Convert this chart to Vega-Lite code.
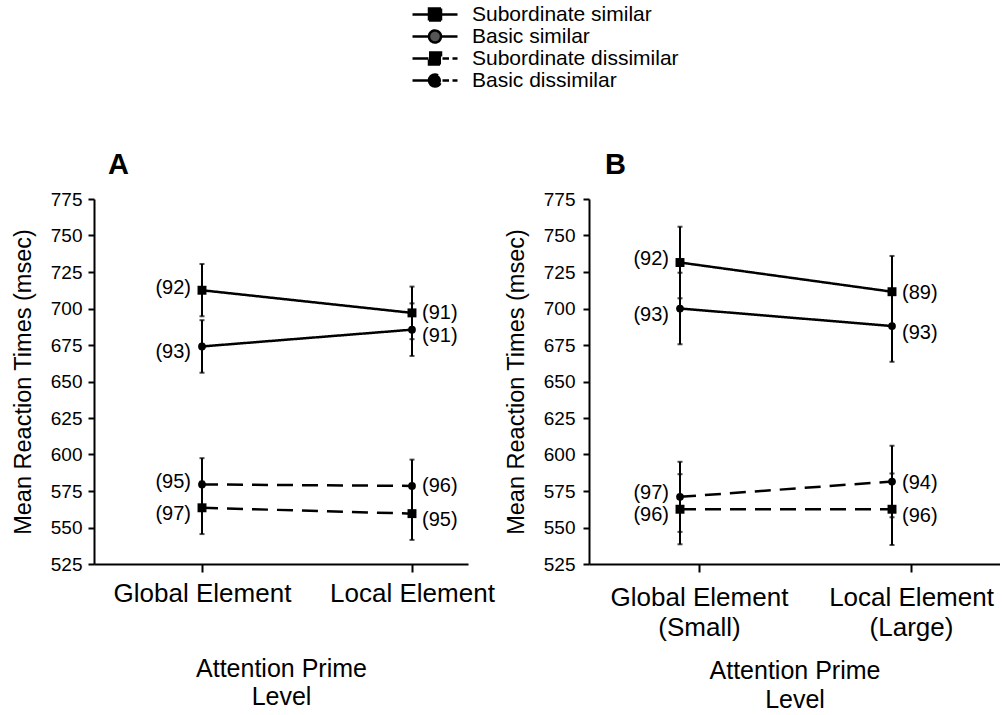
{
  "$schema": "https://vega.github.io/schema/vega-lite/v6.json",
  "padding": {"left": 11, "top": 4, "right": 0, "bottom": 0},
  "background": "white",
  "datasets": {
    "rt": [
      {"panel": "A", "series": "Subordinate similar", "category": "Subordinate", "level": "Global Element", "mean": 712.5, "lo": 694.7, "hi": 730.5, "n": "(92)"},
      {"panel": "A", "series": "Subordinate similar", "category": "Subordinate", "level": "Local Element", "mean": 697, "lo": 679, "hi": 715, "n": "(91)"},
      {"panel": "A", "series": "Basic similar", "category": "Basic", "level": "Global Element", "mean": 674, "lo": 656, "hi": 692, "n": "(93)"},
      {"panel": "A", "series": "Basic similar", "category": "Basic", "level": "Local Element", "mean": 685.5, "lo": 667.5, "hi": 703.5, "n": "(91)"},
      {"panel": "A", "series": "Subordinate dissimilar", "category": "Subordinate", "level": "Global Element", "mean": 563.5, "lo": 545.5, "hi": 581.5, "n": "(97)"},
      {"panel": "A", "series": "Subordinate dissimilar", "category": "Subordinate", "level": "Local Element", "mean": 559.5, "lo": 541.5, "hi": 577.5, "n": "(95)"},
      {"panel": "A", "series": "Basic dissimilar", "category": "Basic", "level": "Global Element", "mean": 579.5, "lo": 561.5, "hi": 597.5, "n": "(95)"},
      {"panel": "A", "series": "Basic dissimilar", "category": "Basic", "level": "Local Element", "mean": 578.5, "lo": 560.5, "hi": 596.5, "n": "(96)"},
      {"panel": "B", "series": "Subordinate similar", "category": "Subordinate", "level": "Global Element", "mean": 731.5, "lo": 707, "hi": 756, "n": "(92)"},
      {"panel": "B", "series": "Subordinate similar", "category": "Subordinate", "level": "Local Element", "mean": 711.5, "lo": 687, "hi": 736, "n": "(89)"},
      {"panel": "B", "series": "Basic similar", "category": "Basic", "level": "Global Element", "mean": 700, "lo": 675.5, "hi": 724.5, "n": "(93)"},
      {"panel": "B", "series": "Basic similar", "category": "Basic", "level": "Local Element", "mean": 688, "lo": 663.5, "hi": 712.5, "n": "(93)"},
      {"panel": "B", "series": "Subordinate dissimilar", "category": "Subordinate", "level": "Global Element", "mean": 562.5, "lo": 538.5, "hi": 586.5, "n": "(96)"},
      {"panel": "B", "series": "Subordinate dissimilar", "category": "Subordinate", "level": "Local Element", "mean": 562.5, "lo": 538, "hi": 587, "n": "(96)"},
      {"panel": "B", "series": "Basic dissimilar", "category": "Basic", "level": "Global Element", "mean": 571, "lo": 547, "hi": 595, "n": "(97)"},
      {"panel": "B", "series": "Basic dissimilar", "category": "Basic", "level": "Local Element", "mean": 581.5, "lo": 557, "hi": 606, "n": "(94)"}
    ]
  },
  "config": {
    "font": "Liberation Sans",
    "view": {"stroke": null},
    "axis": {
      "domainColor": "black", "domainWidth": 2, "tickColor": "black", "tickWidth": 2,
      "labelColor": "black", "titleColor": "black", "labelFont": "Liberation Sans",
      "titleFont": "Liberation Sans", "titleFontWeight": "normal", "grid": false, "labelLimit": 400
    },
    "legend": {"labelFont": "Liberation Sans", "labelColor": "black", "labelLimit": 400},
    "title": {"font": "Liberation Sans", "color": "black"}
  },
  "bounds": "flush",
  "spacing": 121,
  "hconcat": [
    {
      "width": 374,
      "height": 365,
      "title": {"text": "A", "anchor": "start", "frame": "group", "fontSize": 29, "fontWeight": "bold", "dx": 14, "offset": 10},
      "data": {"name": "rt"},
      "transform": [{"filter": "datum.panel == 'A'"}],
      "encoding": {
        "x": {
          "field": "level", "type": "nominal", "sort": ["Global Element", "Local Element"],
          "scale": {"type": "point", "padding": 0.3905, "align": 0.6585},
          "axis": {"title": ["Attention Prime", "Level"], "labelAngle": 0, "labelFontSize": 26, "titleFontSize": 25, "tickSize": 8, "labelPadding": 8, "titlePadding": 50, "titleLineHeight": 28}
        },
        "y": {
          "field": "mean", "type": "quantitative", "title": "Mean Reaction Times (msec)",
          "scale": {"domain": [525, 775], "nice": false, "zero": false},
          "axis": {"values": [525, 550, 575, 600, 625, 650, 675, 700, 725, 750, 775], "labelFontSize": 19, "titleFontSize": 23.5, "tickSize": 6, "labelPadding": 6, "titlePadding": 15}
        }
      },
      "layer": [
        {"mark": {"type": "point", "filled": true, "size": 100, "strokeWidth": 2.5, "opacity": 0},
         "encoding": {
           "shape": {
             "field": "series", "type": "nominal",
             "scale": {"domain": ["Subordinate similar", "Basic similar", "Subordinate dissimilar", "Basic dissimilar"],
                       "range": ["M-4.5,0H-1.2M1.2,0H4.5M-1.2,-1.2H1.2V1.2H-1.2Z", "M-4.5,0H-1.2M1.2,0H4.5M-1.2,0A1.2,1.2,0,1,0,1.2,0A1.2,1.2,0,1,0,-1.2,0Z", "M-4.5,0H-1.2M1.5,0H2.8M3.5,0H4.5M-1.2,-1.2H1.2V1.2H-1.2Z", "M-4.5,0H-1.2M1.5,0H2.8M3.5,0H4.5M-1.2,0A1.2,1.2,0,1,0,1.2,0A1.2,1.2,0,1,0,-1.2,0Z"]},
             "legend": {"title": null, "orient": "none", "legendX": 330.5, "legendY": -195, "labelFontSize": 21, "symbolSize": 100, "symbolStrokeWidth": 2.5, "symbolOpacity": 1, "rowPadding": -3, "labelOffset": 26.5}
           },
           "color": {
             "field": "series", "type": "nominal",
             "scale": {"domain": ["Subordinate similar", "Basic similar", "Subordinate dissimilar", "Basic dissimilar"], "range": ["black", "#555555", "black", "black"]},
             "legend": {"title": null, "orient": "none", "legendX": 330.5, "legendY": -195, "labelFontSize": 21, "symbolSize": 100, "symbolStrokeWidth": 2.5, "symbolOpacity": 1, "rowPadding": -3, "labelOffset": 26.5}
           },
           "stroke": {
             "field": "series", "type": "nominal",
             "scale": {"domain": ["Subordinate similar", "Basic similar", "Subordinate dissimilar", "Basic dissimilar"], "range": ["black", "black", "black", "black"]},
             "legend": {"title": null, "orient": "none", "legendX": 330.5, "legendY": -195, "labelFontSize": 21, "symbolSize": 100, "symbolStrokeWidth": 2.5, "symbolOpacity": 1, "rowPadding": -3, "labelOffset": 26.5}
           }
         }},
        {"mark": {"type": "rule", "color": "black", "strokeWidth": 2},
         "encoding": {"y": {"field": "lo", "type": "quantitative", "title": "Mean Reaction Times (msec)"}, "y2": {"field": "hi"}}},
        {"mark": {"type": "tick", "color": "black", "size": 5, "thickness": 2},
         "encoding": {"y": {"field": "lo", "type": "quantitative", "title": "Mean Reaction Times (msec)"}}},
        {"mark": {"type": "tick", "color": "black", "size": 5, "thickness": 2},
         "encoding": {"y": {"field": "hi", "type": "quantitative", "title": "Mean Reaction Times (msec)"}}},
        {"mark": {"type": "line", "color": "black", "strokeWidth": 2.5},
         "encoding": {
           "strokeDash": {
             "field": "series", "type": "nominal",
             "scale": {"domain": ["Subordinate similar", "Basic similar", "Subordinate dissimilar", "Basic dissimilar"], "range": [[1, 0], [1, 0], [16, 9], [16, 9]]},
             "legend": null
           }
         }},
        {"transform": [{"filter": "datum.category == 'Subordinate'"}],
         "mark": {"type": "point", "shape": "square", "size": 80, "filled": true, "color": "black", "opacity": 1}},
        {"transform": [{"filter": "datum.category == 'Basic'"}],
         "mark": {"type": "point", "shape": "circle", "size": 60, "filled": true, "color": "black", "opacity": 1}},
        {"transform": [{"filter": "datum.level == 'Global Element' && (datum.series == 'Subordinate similar' || datum.series == 'Basic dissimilar')"}],
         "mark": {"type": "text", "align": "right", "dx": -11, "dy": -2, "fontSize": 20, "color": "black"},
         "encoding": {"text": {"field": "n"}}},
        {"transform": [{"filter": "datum.level == 'Global Element' && (datum.series == 'Basic similar' || datum.series == 'Subordinate dissimilar')"}],
         "mark": {"type": "text", "align": "right", "dx": -11, "dy": 6, "fontSize": 20, "color": "black"},
         "encoding": {"text": {"field": "n"}}},
        {"transform": [{"filter": "datum.level == 'Local Element' && (datum.series == 'Subordinate similar' || datum.series == 'Basic dissimilar')"}],
         "mark": {"type": "text", "align": "left", "dx": 10, "dy": 0, "fontSize": 20, "color": "black"},
         "encoding": {"text": {"field": "n"}}},
        {"transform": [{"filter": "datum.level == 'Local Element' && (datum.series == 'Basic similar' || datum.series == 'Subordinate dissimilar')"}],
         "mark": {"type": "text", "align": "left", "dx": 10, "dy": 6, "fontSize": 20, "color": "black"},
         "encoding": {"text": {"field": "n"}}}
      ]
    },
    {
      "width": 411,
      "height": 365,
      "title": {"text": "B", "anchor": "start", "frame": "group", "fontSize": 29, "fontWeight": "bold", "dx": 16, "offset": 10},
      "data": {"name": "rt"},
      "transform": [{"filter": "datum.panel == 'B'"}],
      "encoding": {
        "x": {
          "field": "level", "type": "nominal", "sort": ["Global Element", "Local Element"],
          "scale": {"type": "point", "padding": 0.4693, "align": 0.4573},
          "axis": {"title": ["Attention Prime", "Level"], "labelAngle": 0, "labelFontSize": 26, "titleFontSize": 25, "tickSize": 8, "labelPadding": 12, "titlePadding": 18, "titleLineHeight": 29, "tickOffset": 19, "labelLineHeight": 30,
                   "labelExpr": "datum.label == 'Global Element' ? ['Global Element', '(Small)'] : ['Local Element', '(Large)']"}
        },
        "y": {
          "field": "mean", "type": "quantitative", "title": "Mean Reaction Times (msec)",
          "scale": {"domain": [525, 775], "nice": false, "zero": false},
          "axis": {"values": [525, 550, 575, 600, 625, 650, 675, 700, 725, 750, 775], "labelFontSize": 19, "titleFontSize": 23.5, "tickSize": 6, "labelPadding": 8, "titlePadding": 15}
        }
      },
      "layer": [
        {"mark": {"type": "rule", "color": "black", "strokeWidth": 2},
         "encoding": {"y": {"field": "lo", "type": "quantitative", "title": "Mean Reaction Times (msec)"}, "y2": {"field": "hi"}}},
        {"mark": {"type": "tick", "color": "black", "size": 5, "thickness": 2},
         "encoding": {"y": {"field": "lo", "type": "quantitative", "title": "Mean Reaction Times (msec)"}}},
        {"mark": {"type": "tick", "color": "black", "size": 5, "thickness": 2},
         "encoding": {"y": {"field": "hi", "type": "quantitative", "title": "Mean Reaction Times (msec)"}}},
        {"mark": {"type": "line", "color": "black", "strokeWidth": 2.5},
         "encoding": {
           "strokeDash": {
             "field": "series", "type": "nominal",
             "scale": {"domain": ["Subordinate similar", "Basic similar", "Subordinate dissimilar", "Basic dissimilar"], "range": [[1, 0], [1, 0], [16, 9], [16, 9]]},
             "legend": null
           }
         }},
        {"transform": [{"filter": "datum.category == 'Subordinate'"}],
         "mark": {"type": "point", "shape": "square", "size": 80, "filled": true, "color": "black", "opacity": 1}},
        {"transform": [{"filter": "datum.category == 'Basic'"}],
         "mark": {"type": "point", "shape": "circle", "size": 60, "filled": true, "color": "black", "opacity": 1}},
        {"transform": [{"filter": "datum.level == 'Global Element' && (datum.series == 'Subordinate similar' || datum.series == 'Basic dissimilar')"}],
         "mark": {"type": "text", "align": "right", "dx": -11, "dy": -4, "fontSize": 20, "color": "black"},
         "encoding": {"text": {"field": "n"}}},
        {"transform": [{"filter": "datum.level == 'Global Element' && (datum.series == 'Basic similar' || datum.series == 'Subordinate dissimilar')"}],
         "mark": {"type": "text", "align": "right", "dx": -11, "dy": 6, "fontSize": 20, "color": "black"},
         "encoding": {"text": {"field": "n"}}},
        {"transform": [{"filter": "datum.level == 'Local Element' && (datum.series == 'Subordinate similar' || datum.series == 'Basic dissimilar')"}],
         "mark": {"type": "text", "align": "left", "dx": 10, "dy": 1, "fontSize": 20, "color": "black"},
         "encoding": {"text": {"field": "n"}}},
        {"transform": [{"filter": "datum.level == 'Local Element' && (datum.series == 'Basic similar' || datum.series == 'Subordinate dissimilar')"}],
         "mark": {"type": "text", "align": "left", "dx": 10, "dy": 7, "fontSize": 20, "color": "black"},
         "encoding": {"text": {"field": "n"}}}
      ]
    }
  ]
}
